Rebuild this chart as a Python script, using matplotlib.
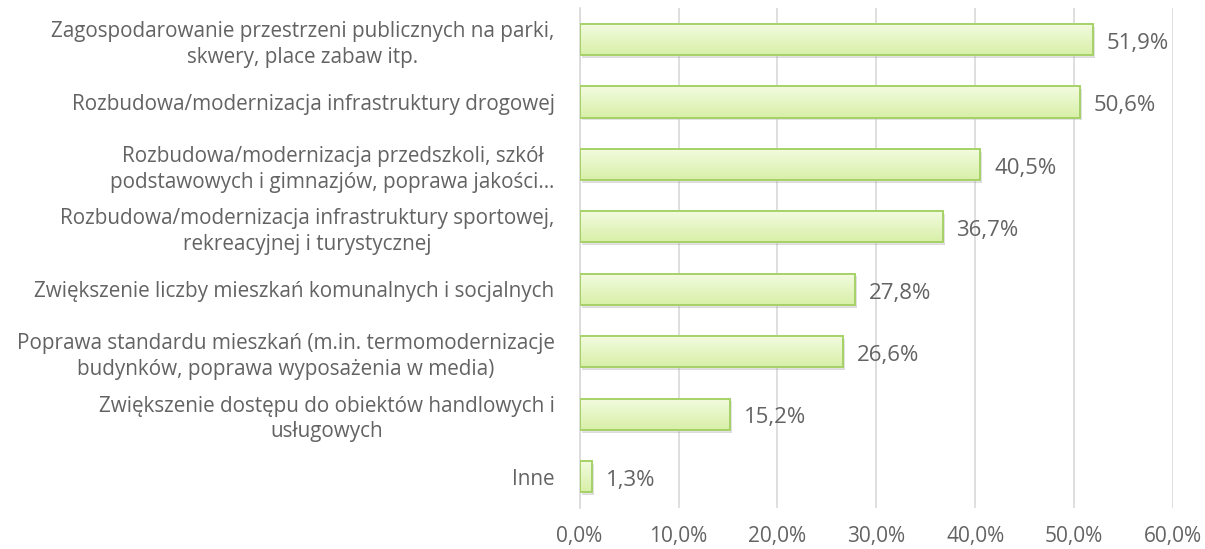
import matplotlib.pyplot as plt
import numpy as np
from matplotlib.ticker import FuncFormatter
from matplotlib.colors import LinearSegmentedColormap

kategorie = [
    'Zagospodarowanie przestrzeni publicznych na parki,\nskwery, place zabaw itp.',
    'Rozbudowa/modernizacja infrastruktury drogowej',
    'Rozbudowa/modernizacja przedszkoli, szkół\npodstawowych i gimnazjów, poprawa jakości…',
    'Rozbudowa/modernizacja infrastruktury sportowej,\nrekreacyjnej i turystycznej',
    'Zwiększenie liczby mieszkań komunalnych i socjalnych',
    'Poprawa standardu mieszkań (m.in. termomodernizacje\nbudynków, poprawa wyposażenia w media)',
    'Zwiększenie dostępu do obiektów handlowych i\nusługowych',
    'Inne',
]
wartosci = [51.9, 50.6, 40.5, 36.7, 27.8, 26.6, 15.2, 1.3]
ticki = [0, 10, 20, 30, 40, 50, 60]

szary = '#636363'
plt.rcParams['font.family'] = ['Open Sans', 'DejaVu Sans']

fig = plt.figure(figsize=(12.05, 5.49), dpi=100)
ax = fig.add_axes([0.481, 0.075, 0.4925, 0.91])

y = np.arange(len(kategorie))
grad = np.linspace(0, 1, 50).reshape(-1, 1)
cmap = LinearSegmentedColormap.from_list('g', ['#f3fbe0', '#d8f0a8'])

# cień pod słupkami
ax.barh(y + 0.045, wartosci, height=0.5, left=0.2, color='#8a8a8a', alpha=0.3,
        edgecolor='none', zorder=2)
bary = ax.barh(y, wartosci, height=0.5, color='none', edgecolor='#a6d167',
               linewidth=1.4, zorder=4)
for b in bary:
    x0, y0 = b.get_x(), b.get_y()
    w, h = b.get_width(), b.get_height()
    ax.add_patch(plt.Rectangle((x0, y0), w, h, color='white', zorder=2.5))
    ax.imshow(grad, cmap=cmap, aspect='auto', extent=(x0, x0 + w, y0 + h, y0),
              zorder=3)

for yi, v in zip(y, wartosci):
    ax.text(v + 1.4, yi + 0.06, f'{v:.1f}%'.replace('.', ','), va='center', ha='left',
            fontsize=16, color=szary)

ax.set_yticks(y)
ax.set_yticklabels(kategorie, fontsize=14.9, color=szary, multialignment='center',
                   linespacing=1.3)
ax.set_ylim(len(kategorie) - 0.5, -0.5)
ax.set_xlim(0, 60)
ax.set_xticks(ticki)
ax.xaxis.set_major_formatter(FuncFormatter(lambda v, p: f'{v:.1f}%'.replace('.', ',')))
ax.tick_params(axis='x', labelsize=15, colors=szary, length=0, pad=13)
ax.tick_params(axis='y', length=0, pad=18)
ax.grid(axis='x', color='#d9d9d9', linewidth=1.2, zorder=0)
ax.set_axisbelow(True)
for s in ['top', 'right', 'bottom']:
    ax.spines[s].set_visible(False)
ax.spines['left'].set_color('#d9d9d9')
ax.spines['left'].set_linewidth(1.2)

fig.savefig('out.png', dpi=100)
